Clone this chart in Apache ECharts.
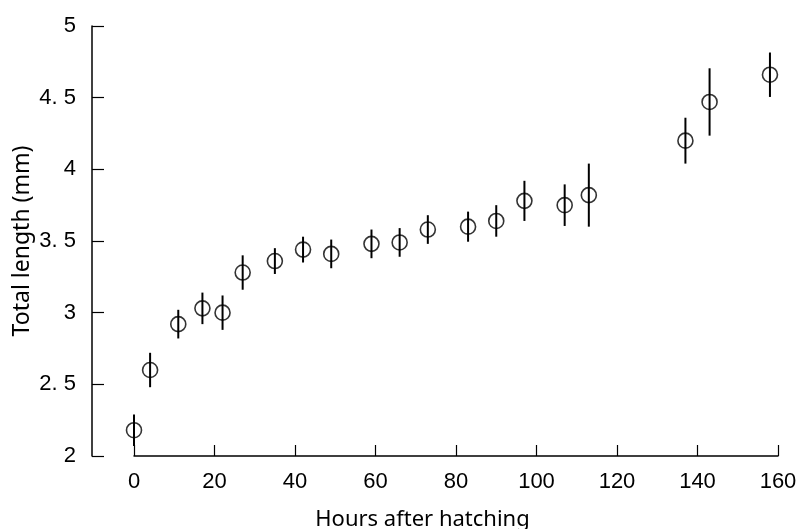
<!DOCTYPE html>
<html>
<head>
<meta charset="utf-8">
<script src="https://cdn.jsdelivr.net/npm/echarts@6/dist/echarts.min.js"></script>
<style>
  html, body { margin: 0; padding: 0; background: #fff; }
  #main { width: 799px; height: 529px; }
</style>
</head>
<body>
<div id="main"></div>
<script>
// hours after hatching, mean total length (mm), and half-length of the bar
var hours = [0, 4, 11, 17, 22, 27, 35, 42, 49, 59, 66, 73, 83, 90, 97, 107, 113, 137, 143, 158];
var lengths = [2.18, 2.60, 2.92, 3.03, 3.00, 3.28, 3.36, 3.44, 3.41, 3.48, 3.49, 3.58, 3.60, 3.64, 3.78, 3.75, 3.82, 4.20, 4.47, 4.66];
var errors = [0.11, 0.12, 0.10, 0.11, 0.12, 0.12, 0.09, 0.09, 0.10, 0.10, 0.10, 0.10, 0.105, 0.11, 0.14, 0.145, 0.22, 0.16, 0.235, 0.155];

var points = [];
var bars = [];
for (var i = 0; i < hours.length; i++) {
	points.push([hours[i], lengths[i]]);
	bars.push([hours[i], lengths[i] - errors[i], lengths[i] + errors[i]]);
}

var labelFont = '"Liberation Sans Narrow", "Liberation Sans", sans-serif';
var nameFont = '"Noto Sans", sans-serif';

var chart = echarts.init(document.getElementById('main'));

var option = {
	backgroundColor : '#fff',
	animation : false,
	grid : {
		left : 134,
		right : 21,
		top : 26,
		bottom : 73,
		outerBoundsMode : 'none'
	},
	xAxis : {
		type : 'value',
		min : 0,
		max : 160,
		interval : 20,
		name : 'Hours after hatching',
		nameLocation : 'middle',
		nameGap : 53,
		nameMoveOverlap : false,
		nameTextStyle : {
			fontFamily : nameFont,
			fontSize : 22,
			color : '#000',
			padding : [0, 67, 0, 0]
		},
		axisLine : {
			onZero : false,
			lineStyle : { color : '#000', width : 1.5 }
		},
		axisTick : {
			inside : true,
			length : 11,
			lineStyle : { color : '#000', width : 1.2 }
		},
		axisLabel : {
			margin : 15,
			fontFamily : labelFont,
			fontSize : 22,
			color : '#000'
		},
		splitLine : { show : false }
	},
	yAxis : {
		type : 'value',
		min : 2,
		max : 5,
		interval : 0.5,
		offset : 42,
		name : 'Total length (mm)',
		nameLocation : 'middle',
		nameGap : 58,
		nameMoveOverlap : false,
		nameTextStyle : {
			fontFamily : nameFont,
			fontSize : 23,
			color : '#000'
		},
		axisLine : {
			show : true,
			onZero : false,
			lineStyle : { color : '#000', width : 1.5 }
		},
		axisTick : {
			show : true,
			inside : true,
			length : 12,
			lineStyle : { color : '#000', width : 1.2 }
		},
		axisLabel : {
			margin : 16,
			fontFamily : labelFont,
			fontSize : 22,
			color : '#000',
			formatter : function(v) {
				return String(v).replace('.', '. ');
			}
		},
		splitLine : { show : false }
	},
	series : [ {
		name : 'range',
		type : 'custom',
		data : bars,
		z : 2,
		renderItem : function(params, api) {
			var top = api.coord([api.value(0), api.value(2)]);
			var bottom = api.coord([api.value(0), api.value(1)]);
			return {
				type : 'line',
				shape : { x1 : top[0], y1 : top[1], x2 : bottom[0], y2 : bottom[1] },
				style : { stroke : '#000', lineWidth : 2 }
			};
		}
	}, {
		name : 'length',
		type : 'scatter',
		data : points,
		z : 3,
		symbol : 'circle',
		symbolSize : 15,
		itemStyle : {
			color : 'rgba(0,0,0,0)',
			borderColor : '#000',
			borderWidth : 1.6
		}
	} ]
};

chart.setOption(option);
</script>
</body>
</html>
